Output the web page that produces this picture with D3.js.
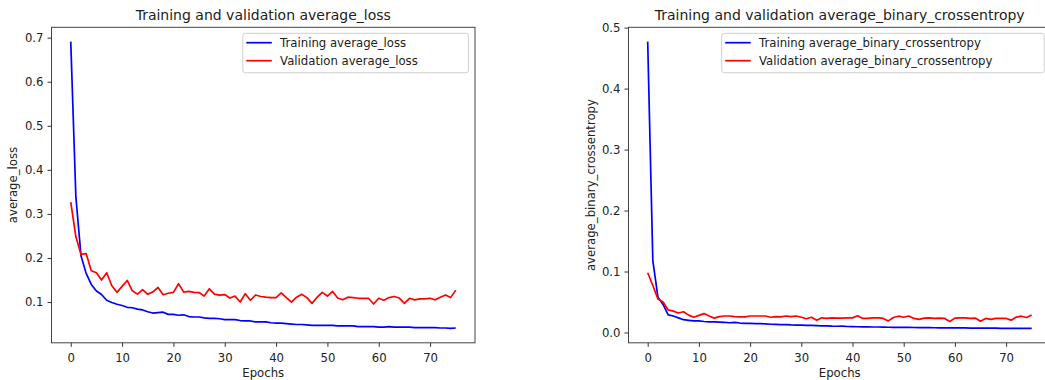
<!DOCTYPE html>
<html><head><meta charset="utf-8">
<script src="https://cdn.jsdelivr.net/npm/d3@7"></script>
<style>
html,body{margin:0;padding:0;background:#fff;}
text{font-family:"DejaVu Sans",sans-serif;fill:#222;}
</style></head>
<body>
<svg id="c" width="1045" height="380"></svg>
<script>
const epochs = d3.range(0, 76);
const trainLoss = [0.691,0.338,0.205,0.165,0.140,0.125,0.117,0.104,0.099,0.095,0.092,0.088,0.087,0.084,0.082,0.078,0.075,0.076,0.077,0.072,0.072,0.070,0.071,0.067,0.066,0.066,0.064,0.063,0.063,0.062,0.060,0.060,0.060,0.058,0.057,0.057,0.055,0.055,0.055,0.053,0.052,0.052,0.051,0.050,0.049,0.049,0.048,0.047,0.047,0.047,0.047,0.047,0.046,0.046,0.046,0.046,0.044,0.044,0.044,0.044,0.043,0.043,0.044,0.043,0.043,0.043,0.043,0.042,0.042,0.042,0.042,0.042,0.041,0.041,0.040,0.041];
const valLoss = [0.327,0.248,0.208,0.210,0.171,0.1665,0.150,0.1665,0.137,0.122,0.1355,0.149,0.1255,0.118,0.128,0.1175,0.123,0.133,0.1165,0.120,0.122,0.1415,0.1225,0.124,0.122,0.1215,0.1135,0.130,0.118,0.1155,0.117,0.109,0.1135,0.100,0.119,0.104,0.116,0.1125,0.111,0.110,0.110,0.1205,0.110,0.100,0.111,0.1175,0.110,0.097,0.111,0.122,0.1136,0.124,0.109,0.105,0.111,0.110,0.1085,0.1085,0.1085,0.0955,0.1085,0.104,0.110,0.1125,0.109,0.097,0.1085,0.105,0.107,0.107,0.1085,0.105,0.111,0.116,0.110,0.127];
const trainBce = [0.477,0.118,0.058,0.046,0.029,0.027,0.024,0.021,0.020,0.019,0.019,0.018,0.0175,0.0175,0.017,0.0166,0.016,0.0166,0.0155,0.015,0.0148,0.0145,0.0145,0.014,0.0135,0.0133,0.013,0.013,0.0125,0.0122,0.012,0.0118,0.0116,0.0113,0.011,0.0108,0.0104,0.0102,0.0104,0.0098,0.0096,0.0094,0.0092,0.0091,0.009,0.009,0.0088,0.0086,0.0085,0.0085,0.0084,0.0083,0.0082,0.0081,0.008,0.008,0.0078,0.0077,0.0077,0.0076,0.0075,0.0075,0.0074,0.0073,0.0072,0.0072,0.0071,0.007,0.007,0.0069,0.0068,0.0068,0.0067,0.0067,0.0066,0.0066];
const valBce = [0.098,0.077,0.055,0.050,0.037,0.035,0.032,0.034,0.0285,0.025,0.028,0.031,0.027,0.0235,0.026,0.027,0.027,0.026,0.0255,0.0255,0.027,0.027,0.027,0.027,0.025,0.026,0.0255,0.027,0.026,0.027,0.025,0.0225,0.025,0.020,0.024,0.023,0.024,0.0236,0.0236,0.024,0.024,0.0274,0.023,0.023,0.024,0.024,0.023,0.019,0.0245,0.0267,0.025,0.027,0.023,0.0215,0.0236,0.024,0.023,0.0236,0.023,0.018,0.0236,0.024,0.024,0.023,0.0236,0.0185,0.023,0.0215,0.023,0.023,0.023,0.0202,0.0253,0.0267,0.0245,0.0285];
const xTicks = [0,10,20,30,40,50,60,70];
const yTicksLoss = [0.1,0.2,0.3,0.4,0.5,0.6,0.7];
const yTicksBce = [0.0,0.1,0.2,0.3,0.4,0.5];

const svg = d3.select("#c");
svg.append("rect").attr("width",1045).attr("height",380).attr("fill","#fff");

function panel(cfg){
  const {x0,x1,y0,y1,train,val,title,ylabel,yTicks,trainName,valName,ylabelX,legendW} = cfg;
  const g = svg.append("g");
  const xs = d3.scaleLinear().domain([-3.75,78.75]).range([x0,x1]);
  const all = train.concat(val);
  const mn = d3.min(all), mx = d3.max(all), pad = (mx-mn)*0.05;
  const ys = d3.scaleLinear().domain([mn-pad, mx+pad]).range([y1,y0]);

  const line = d3.line().x((d,i)=>xs(epochs[i])).y(d=>ys(d));
  g.append("path").datum(train).attr("d",line).attr("fill","none").attr("stroke","#0000ff").attr("stroke-width",1.7).attr("stroke-linejoin","round");
  g.append("path").datum(val).attr("d",line).attr("fill","none").attr("stroke","#ff0000").attr("stroke-width",1.7).attr("stroke-linejoin","round");

  g.append("rect").attr("x",x0).attr("y",y0).attr("width",x1-x0).attr("height",y1-y0)
    .attr("fill","none").attr("stroke","#444").attr("stroke-width",1);

  const xa = g.append("g").attr("transform",`translate(0,${y1})`)
    .call(d3.axisBottom(xs).tickValues(xTicks).tickFormat(d3.format("d")).tickSize(4).tickPadding(4));
  const ya = g.append("g").attr("transform",`translate(${x0},0)`)
    .call(d3.axisLeft(ys).tickValues(yTicks).tickFormat(d3.format(".1f")).tickSize(4).tickPadding(4));
  [xa,ya].forEach(a=>{
    a.select(".domain").remove();
    a.selectAll("line").attr("stroke","#333");
    a.selectAll("text").style("font-family","DejaVu Sans").style("font-size","11.7px").attr("fill","#222");
  });
  xa.selectAll("text").attr("dy","1.0em");

  g.append("text").attr("x",(x0+x1)/2).attr("y",20).attr("text-anchor","middle")
    .style("font-size","14px").text(title);
  g.append("text").attr("x",(x0+x1)/2).attr("y",376.5).attr("text-anchor","middle")
    .style("font-size","11.7px").text("Epochs");
  g.append("text").attr("transform",`translate(${ylabelX},${(y0+y1)/2}) rotate(-90)`)
    .attr("text-anchor","middle").attr("dy","0.35em").style("font-size","11.7px").text(ylabel);

  const lg = g.append("g");
  const bx1 = x1 - 6.6, bx0 = bx1 - legendW;
  lg.append("rect").attr("x",bx0).attr("y",33.3).attr("width",legendW).attr("height",39.4).attr("rx",2.5)
    .attr("fill","#fff").attr("fill-opacity",0.8).attr("stroke","#d0d0d0").attr("stroke-width",1);
  lg.append("text").attr("x",bx0+37.3).attr("y",47).style("font-size","11.7px").text(trainName);
  lg.append("text").attr("x",bx0+37.3).attr("y",65).style("font-size","11.7px").text(valName);
  lg.append("line").attr("x1",bx0+3.5).attr("x2",bx0+29).attr("y1",42.7).attr("y2",42.7).attr("stroke","#0000ff").attr("stroke-width",1.7);
  lg.append("line").attr("x1",bx0+3.5).attr("x2",bx0+29).attr("y1",60.7).attr("y2",60.7).attr("stroke","#ff0000").attr("stroke-width",1.7);
}

panel({x0:51.5,x1:475,y0:27.3,y1:342.8,train:trainLoss,val:valLoss,
  title:"Training and validation average_loss",ylabel:"average_loss",yTicks:yTicksLoss,
  trainName:"Training average_loss",valName:"Validation average_loss",ylabelX:13.3,legendW:225.6});
panel({x0:628.5,x1:1050.9,y0:27.3,y1:342.8,train:trainBce,val:valBce,
  title:"Training and validation average_binary_crossentropy",ylabel:"average_binary_crossentropy",yTicks:yTicksBce,
  trainName:"Training average_binary_crossentropy",valName:"Validation average_binary_crossentropy",ylabelX:591,legendW:322.6});
</script>
</body></html>
